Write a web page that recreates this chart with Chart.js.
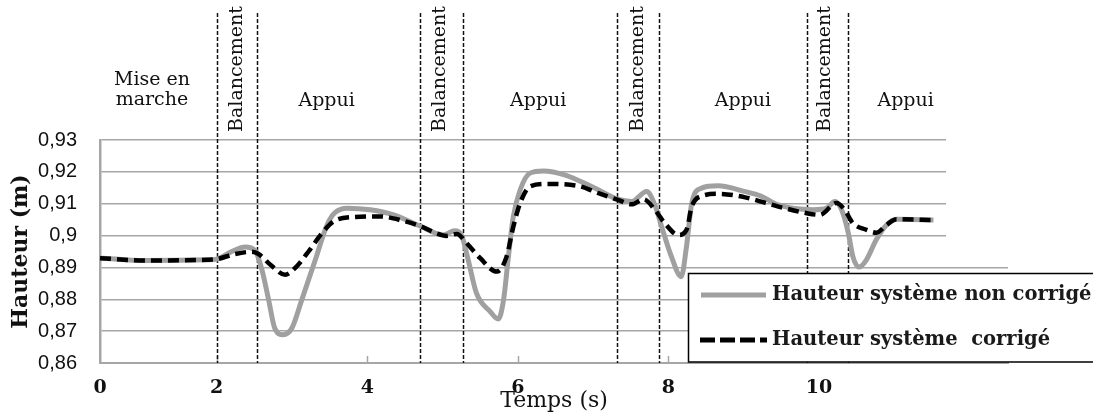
<!DOCTYPE html>
<html>
<head>
<meta charset="utf-8">
<script src="https://cdn.jsdelivr.net/npm/chart.js@4.4.1/dist/chart.umd.min.js"></script>
<style>
  body { margin: 0; background: #fff; }
  #wrap { width: 1093px; height: 414px; }
</style>
</head>
<body>
<div id="wrap"><canvas id="hauteur" width="1093" height="414"></canvas></div>
<script>
// courbe grise : hauteur non corrigée
const tempsNonCorrige = [0.45, 1.05, 1.88, 2.0, 2.2, 2.38, 2.51, 2.6, 2.69, 2.77, 2.88, 3.0, 3.13, 3.31, 3.44, 3.5, 3.57, 3.73, 4.04, 4.35, 4.7, 5.01, 5.16, 5.25, 5.34, 5.45, 5.63, 5.74, 5.81, 5.87, 5.94, 6.03, 6.16, 6.34, 6.63, 7.02, 7.33, 7.51, 7.71, 7.82, 7.91, 8.04, 8.17, 8.24, 8.31, 8.44, 8.66, 9.02, 9.22, 9.46, 9.92, 10.1, 10.21, 10.3, 10.39, 10.45, 10.53, 10.63, 10.76, 10.9, 11.03, 11.52];
const hauteurNonCorrige = [0.893, 0.8922, 0.8924, 0.8926, 0.895, 0.8964, 0.8953, 0.8893, 0.8798, 0.871, 0.8689, 0.871, 0.8798, 0.8924, 0.9018, 0.905, 0.9072, 0.9086, 0.9081, 0.9065, 0.903, 0.9002, 0.9015, 0.9002, 0.8924, 0.8819, 0.8762, 0.8738, 0.8798, 0.8924, 0.906, 0.9143, 0.9196, 0.9203, 0.919, 0.9149, 0.9114, 0.9107, 0.9138, 0.9096, 0.9028, 0.8934, 0.8871, 0.8966, 0.9102, 0.9149, 0.9156, 0.9138, 0.9125, 0.9096, 0.9081, 0.9086, 0.9107, 0.9081, 0.9007, 0.8934, 0.8901, 0.8924, 0.8987, 0.9034, 0.9051, 0.9049];

// courbe pointillée : hauteur corrigée
const tempsCorrige = [0.45, 1.05, 1.88, 2.0, 2.24, 2.46, 2.55, 2.73, 2.91, 3.04, 3.22, 3.39, 3.55, 3.81, 4.17, 4.48, 4.7, 4.92, 5.05, 5.19, 5.32, 5.5, 5.72, 5.85, 5.94, 6.03, 6.16, 6.38, 6.8, 7.07, 7.33, 7.51, 7.67, 7.82, 7.95, 8.13, 8.24, 8.31, 8.44, 8.66, 9.02, 9.46, 9.84, 10.01, 10.23, 10.34, 10.45, 10.63, 10.76, 10.9, 11.03, 11.52];
const hauteurCorrige = [0.8929, 0.8922, 0.8924, 0.8926, 0.8942, 0.8949, 0.8943, 0.8905, 0.8877, 0.8898, 0.895, 0.9005, 0.9044, 0.9058, 0.906, 0.9046, 0.903, 0.9007, 0.8999, 0.9005, 0.8976, 0.8929, 0.8887, 0.8934, 0.9028, 0.9102, 0.9154, 0.9162, 0.9156, 0.9133, 0.9112, 0.9098, 0.9114, 0.9081, 0.9039, 0.9002, 0.9018, 0.9091, 0.9124, 0.9131, 0.912, 0.9091, 0.907, 0.9065, 0.9102, 0.9081, 0.9039, 0.9018, 0.9009, 0.9034, 0.9051, 0.9049];

// phases de la marche
const limitesPhases = [2.0, 2.53, 4.7, 5.27, 7.32, 7.87, 9.84, 10.38];
const phaseNoms = ["Mise en\nmarche", "Balancement", "Appui", "Balancement", "Appui", "Balancement", "Appui", "Balancement", "Appui"];
const phaseCentres = [1.14, 2.27, 3.46, 4.97, 6.27, 7.6, 8.99, 10.08, 11.15];

const tempsTicks = [0, 2, 4, 6, 8, 10];
const hauteurTicks = [0.86, 0.87, 0.88, 0.89, 0.9, 0.91, 0.92, 0.93];

const serif = '"DejaVu Serif", serif';

const toPoints = (xs, ys) => xs.map((t, i) => ({ x: t, y: ys[i] }));

// lignes de phases, textes du haut, cache et légende
const decor = {
  id: "decor",
  beforeDatasetsDraw(chart) {
    const { ctx, scales: { x }, chartArea } = chart;
    ctx.save();
    // petits traits de graduation vers l'intérieur
    ctx.strokeStyle = "#a6a6a6";
    ctx.lineWidth = 1.5;
    tempsTicks.slice(1).forEach((t) => {
      const px = Math.round(x.getPixelForValue(t)) + 0.5;
      ctx.beginPath();
      ctx.moveTo(px, chartArea.bottom);
      ctx.lineTo(px, chartArea.bottom - 7);
      ctx.stroke();
    });

    ctx.strokeStyle = "#111";
    ctx.setLineDash([4, 2]);
    limitesPhases.forEach((t) => {
      const px = Math.round(x.getPixelForValue(t)) + 0.5;
      ctx.beginPath();
      ctx.moveTo(px, 13);
      ctx.lineTo(px, chartArea.bottom);
      ctx.stroke();
    });
    ctx.setLineDash([]);

    ctx.fillStyle = "#111";
    ctx.font = "19px " + serif;
    ctx.textAlign = "center";
    ctx.textBaseline = "middle";
    phaseNoms.forEach((nom, i) => {
      const px = x.getPixelForValue(phaseCentres[i]);
      if (nom === "Balancement") {
        ctx.save();
        ctx.translate(px, 69);
        ctx.rotate(-Math.PI / 2);
        ctx.fillText(nom, 0, 0);
        ctx.restore();
      } else {
        const lignes = nom.split("\n");
        if (lignes.length > 1) {
          ctx.fillText(lignes[0], px, 80);
          ctx.fillText(lignes[1], px, 100);
        } else {
          ctx.fillText(nom, px, 101);
        }
      }
    });
    ctx.restore();
  },
  afterDatasetsDraw(chart) {
    const { ctx, scales: { y }, chartArea } = chart;
    // le haut du quadrillage s'arrête avant le bord droit
    ctx.save();
    ctx.fillStyle = "#fff";
    const bas = y.getPixelForValue(0.89) - 2;
    ctx.fillRect(946, chartArea.top - 2, chartArea.right - 944, bas - chartArea.top + 2);
    ctx.restore();
  },
  afterDraw(chart) {
    const { ctx } = chart;
    const ds = chart.data.datasets;
    ctx.save();
    ctx.fillStyle = "#fff";
    ctx.fillRect(688, 273, 420, 89);
    ctx.strokeStyle = "#000";
    ctx.lineWidth = 1.5;
    ctx.strokeRect(688.5, 273.5, 420, 88.5);

    ctx.lineWidth = 5;
    ctx.strokeStyle = ds[0].borderColor;
    ctx.beginPath();
    ctx.moveTo(701, 295);
    ctx.lineTo(766, 295);
    ctx.stroke();

    ctx.strokeStyle = ds[1].borderColor;
    ctx.setLineDash([15, 5]);
    ctx.beginPath();
    ctx.moveTo(700, 340);
    ctx.lineTo(767, 340);
    ctx.stroke();
    ctx.setLineDash([]);

    ctx.fillStyle = "#1a1a1a";
    ctx.font = "bold 19.5px " + serif;
    ctx.textAlign = "left";
    ctx.textBaseline = "middle";
    ctx.fillText(ds[0].label, 772, 295);
    ctx.fillText(ds[1].label, 772, 340);
    ctx.restore();
  },
};

const ctx = document.querySelector("#hauteur");
new Chart(ctx, {
  type: "line",
  data: {
    datasets: [
      {
        label: "Hauteur système non corrigé",
        data: toPoints(tempsNonCorrige, hauteurNonCorrige),
        borderColor: "#a0a0a0",
        borderWidth: 5,
        pointRadius: 0,
        cubicInterpolationMode: "monotone",
        fill: false,
        order: 2,
      },
      {
        label: "Hauteur système  corrigé",
        data: toPoints(tempsCorrige, hauteurCorrige),
        borderColor: "#000",
        borderWidth: 4.5,
        borderDash: [11, 6],
        pointRadius: 0,
        cubicInterpolationMode: "monotone",
        fill: false,
        order: 1,
      },
    ],
  },
  options: {
    responsive: false,
    animation: false,
    layout: { padding: { top: 140, right: 85, left: 0, bottom: 0 } },
    plugins: { legend: { display: false }, tooltip: { enabled: false } },
    scales: {
      x: {
        type: "linear",
        min: 0.45,
        max: 12.51,
        afterFit: (scale) => { scale.height = 51; },
        afterBuildTicks: (scale) => {
          scale.ticks = tempsTicks.map((v) => ({ value: Math.max(v, scale.min) }));
        },
        grid: { display: false },
        border: { display: true, color: "#a6a6a6", width: 2 },
        ticks: {
          padding: 6,
          color: "#111",
          font: { family: serif, size: 19, weight: "bold" },
          callback: (v, i) => String(tempsTicks[i]),
        },
        title: {
          display: true,
          text: "Temps (s)",
          color: "#111",
          font: { family: serif, size: 22 },
          padding: { top: 0, bottom: 0 },
        },
      },
      y: {
        min: 0.86,
        max: 0.93,
        afterFit: (scale) => { scale.width = 100; },
        afterBuildTicks: (scale) => {
          scale.ticks = hauteurTicks.map((v) => ({ value: v }));
        },
        grid: { color: "#a6a6a6", lineWidth: 1.5, drawTicks: false },
        border: { display: true, color: "#a6a6a6", width: 2.5 },
        ticks: {
          padding: 23,
          color: "#111",
          font: { family: '"Liberation Sans", sans-serif', size: 20 },
          callback: (v) => String(+v.toFixed(2)).replace(".", ","),
        },
        title: {
          display: true,
          text: "Hauteur (m)",
          color: "#111",
          font: { family: serif, size: 22, weight: "bold" },
          padding: { top: 8, bottom: 0 },
        },
      },
    },
  },
  plugins: [decor],
});
</script>
</body>
</html>
